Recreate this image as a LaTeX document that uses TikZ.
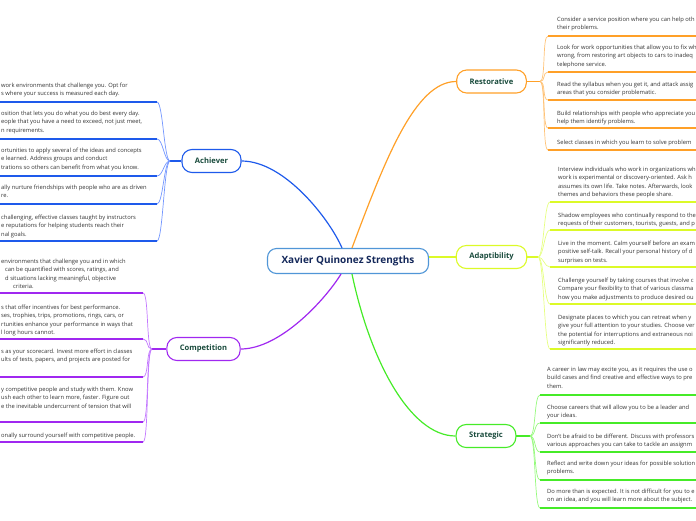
\documentclass[tikz,border=0pt]{standalone}
\usepackage{fontspec}
\setmainfont{Open Sans}
\usepackage{xcolor}
\usepackage{tikz}
\usetikzlibrary{calc}
\definecolor{centerblue}{RGB}{80,150,215}
\definecolor{centertext}{RGB}{20,40,90}
\definecolor{topictext}{RGB}{25,75,60}
\definecolor{itemgray}{RGB}{50,50,50}
\definecolor{achblue}{RGB}{30,90,235}
\definecolor{achfan}{RGB}{115,150,255}
\definecolor{comppurple}{RGB}{160,40,240}
\definecolor{compfan}{RGB}{195,120,255}
\definecolor{restorange}{RGB}{255,160,40}
\definecolor{restfan}{RGB}{255,195,120}
\definecolor{adaplime}{RGB}{220,250,40}
\definecolor{adapfan}{RGB}{230,255,130}
\definecolor{stratgreen}{RGB}{70,235,40}
\definecolor{stratfan}{RGB}{150,250,125}

\tikzset{
  centerbox/.style={draw=centerblue, line width=1.1pt, fill=white, rounded corners=9pt,
    minimum height=25pt, minimum width=161pt, inner ysep=0pt,
    font=\fontsize{10}{12}\selectfont\bfseries, text=centertext},
  topicbox/.style={line width=1.1pt, fill=white, rounded corners=10pt,
    minimum height=23pt, inner xsep=13pt, inner ysep=0pt,
    font=\fontsize{7.6}{9}\selectfont\bfseries, text=topictext},
  itemtext/.style={anchor=north west, inner sep=0pt, align=left,
    font=\fontsize{5.8}{8.6}\selectfont, text=itemgray},
  mainline/.style={line width=1.2pt},
  underline/.style={line width=1.2pt},
  fanline/.style={line width=0.7pt},
}

\begin{document}
\begin{tikzpicture}[x=1pt,y=-1pt]
  \useasboundingbox (0,0) rectangle (696,520);
  \clip (0,0) rectangle (696,520);

  % Central topic and main topics
  \node[centerbox] (center) at (348,261) {Xavier Quinonez Strengths};
  \node[topicbox, draw=achblue] (achiever) at (211.5,161) {Achiever};
  \node[topicbox, draw=comppurple] (competition) at (203.5,349) {Competition};
  \node[topicbox, draw=restorange] (restorative) at (491.5,81.5) {Restorative};
  \node[topicbox, draw=adaplime] (adaptibility) at (491.5,257) {Adaptibility};
  \node[topicbox, draw=stratgreen] (strategic) at (486,436) {Strategic};

  % Attach points on the central topic
  \coordinate (cTopL) at ([xshift=-6pt]center.north);
  \coordinate (cTopR) at ([xshift=4pt]center.north);
  \coordinate (cBotL) at ([xshift=-7pt]center.south);
  \coordinate (cBotR) at ([xshift=4pt]center.south);
  \coordinate (cRight) at ([yshift=4pt]center.east);

  % Main branches
  \draw[mainline, achblue] (achiever.east) .. controls (285,161) and (330,220) .. (cTopL);
  \draw[mainline, restorange] (cTopR) .. controls (385,160) and (415,81.5) .. (restorative.west);
  \draw[mainline, comppurple] (cBotL) .. controls (325,300) and (280,349) .. (competition.east);
  \draw[mainline, stratgreen] (cBotR) .. controls (370,360) and (410,436) .. (strategic.west);
  \draw[mainline, adaplime] (cRight) -- (adaptibility.west |- cRight);

  % Restorative subtopics
  \coordinate (restHub) at (540,81.5);
  \draw[underline, restorange] (restorative.east) -- (restHub);
  \foreach \i/\ty/\uy/\txt in {
    1/19/36/{Consider a service position where you can help oth\\their problems.},
    2/47/72/{Look for work opportunities that allow you to fix wh\\wrong, from restoring art objects to cars to inadeq\\telephone service.},
    3/84/100/{Read the syllabus when you get it, and attack assig\\areas that you consider problematic.},
    4/113/128/{Build relationships with people who appreciate you\\help them identify problems.},
    5/142/150/{Select classes in which you learn to solve problem}%
  }{
    \node[itemtext] (rest\i) at (557,\ty-2.5) {\txt};
    \coordinate (restU\i) at (548,\uy);
    \draw[fanline, restfan] (restHub) .. controls +(6,0) and +(-6,0) .. (restU\i);
    \draw[underline, restorange] (restU\i) -- (700,\uy);
  }

  % Adaptibility subtopics
  \coordinate (adapHub) at (538,257);
  \draw[underline, adaplime] (adaptibility.east) -- (adapHub);
  \foreach \i/\ty/\uy/\txt in {
    1/169/202/{Interview individuals who work in organizations wh\\work is experimental or discovery-oriented. Ask h\\assumes its own life. Take notes. Afterwards, look\\themes and behaviors these people share.},
    2/215/230/{Shadow employees who continually respond to the\\requests of their customers, tourists, guests, and p},
    3/243/267/{Live in the moment. Calm yourself before an exam\\positive self-talk. Recall your personal history of d\\surprises on tests.},
    4/280/304/{Challenge yourself by taking courses that involve c\\Compare your flexibility to that of various classma\\how you make adjustments to produce desired ou},
    5/317/349/{Designate places to which you can retreat when y\\give your full attention to your studies. Choose ver\\the potential for interruptions and extraneous noi\\significantly reduced.}%
  }{
    \node[itemtext] (adap\i) at (558,\ty-2.5) {\txt};
    \coordinate (adapU\i) at (550,\uy);
    \draw[fanline, adapfan] (adapHub) .. controls +(6,0) and +(-6,0) .. (adapU\i);
    \draw[underline, adaplime] (adapU\i) -- (700,\uy);
  }

  % Strategic subtopics
  \coordinate (stratHub) at (530,436);
  \draw[underline, stratgreen] (strategic.east) -- (stratHub);
  \foreach \i/\ty/\uy/\txt in {
    1/369/395/{A career in law may excite you, as it requires the use o\\build cases and find creative and effective ways to pre\\them.},
    2/407/423/{Choose careers that will allow you to be a leader and\\your ideas.},
    3/436/452/{Don't be afraid to be different. Discuss with professors\\various approaches you can take to tackle an assignm},
    4/463/480/{Reflect and write down your ideas for possible solution\\problems.},
    5/491/508/{Do more than is expected. It is not difficult for you to e\\on an idea, and you will learn more about the subject.}%
  }{
    \node[itemtext] (strat\i) at (547,\ty-2.5) {\txt};
    \coordinate (stratU\i) at (540,\uy);
    \draw[fanline, stratfan] (stratHub) .. controls +(6,0) and +(-6,0) .. (stratU\i);
    \draw[underline, stratgreen] (stratU\i) -- (700,\uy);
  }

  % Achiever subtopics
  \coordinate (achHub) at (170,161);
  \draw[underline, achblue] (achiever.west) -- (achHub);
  \foreach \i/\ty/\uy/\txt in {
    1/85/102/{work environments that challenge you. Opt for\\s where your success is measured each day.},
    2/113/139/{osition that lets you do what you do best every day.\\eople that you have a need to exceed, not just meet,\\n requirements.},
    3/150/176/{ortunities to apply several of the ideas and concepts\\e learned. Address groups and conduct\\trations so others can benefit from what you know.},
    4/187/204/{ally nurture friendships with people who are as driven\\re.},
    5/217/241/{challenging, effective classes taught by instructors\\e reputations for helping students reach their\\nal goals.}%
  }{
    \node[itemtext] (ach\i) at (1,\ty-2.5) {\txt};
    \coordinate (achU\i) at (157,\uy);
    \draw[fanline, achfan] (achHub) .. controls +(-6,0) and +(6,0) .. (achU\i);
    \draw[underline, achblue] (achU\i) -- (-4,\uy);
  }

  % Competition subtopics
  \coordinate (compHub) at (152,349);
  \draw[underline, comppurple] (competition.west) -- (compHub);
  \foreach \i/\ty/\uy/\txt in {
    1/261/293/{environments that challenge you and in which\\\hspace*{4pt}can be quantified with scores, ratings, and\\\hspace*{4pt}d situations lacking meaningful, objective\\\hspace*{12pt}criteria.},
    2/307/339/{s that offer incentives for best performance.\\ses, trophies, trips, promotions, rings, cars, or\\rtunities enhance your performance in ways that\\l long hours cannot.},
    3/351/377/{s as your scorecard. Invest more effort in classes\\ults of tests, papers, and projects are posted for},
    4/389/422/{y competitive people and study with them. Know\\ush each other to learn more, faster. Figure out\\e the inevitable undercurrent of tension that will},
    5/435/442/{onally surround yourself with competitive people.}%
  }{
    \node[itemtext] (comp\i) at (1,\ty-2.5) {\txt};
    \coordinate (compU\i) at (143,\uy);
    \draw[fanline, compfan] (compHub) .. controls +(-6,0) and +(6,0) .. (compU\i);
    \draw[underline, comppurple] (compU\i) -- (-4,\uy);
  }
\end{tikzpicture}
\end{document}
